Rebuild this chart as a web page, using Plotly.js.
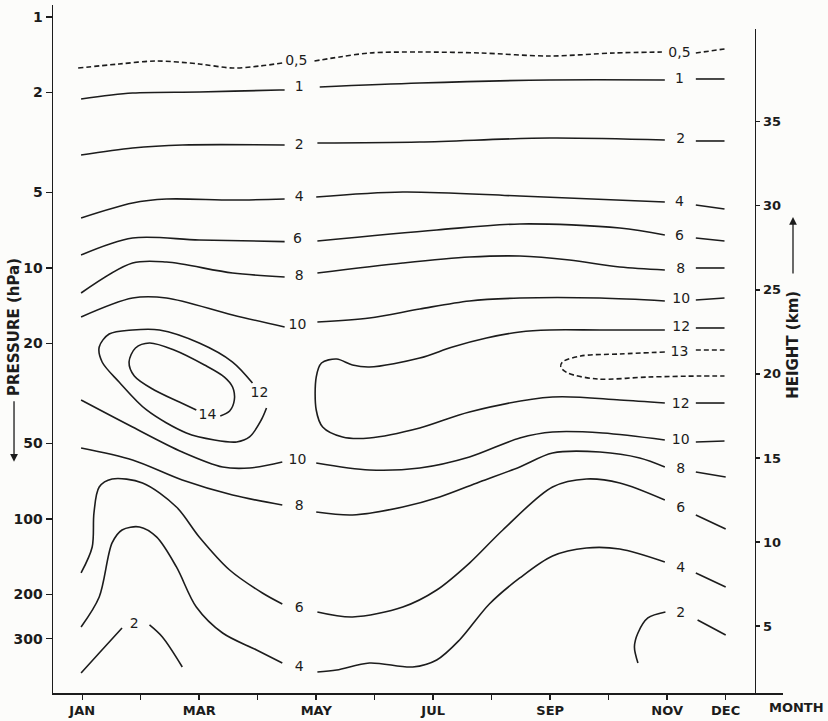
<!DOCTYPE html>
<html>
<head>
<meta charset="utf-8">
<script src="https://cdn.plot.ly/plotly-3.0.1.min.js"></script>
<style>html,body{margin:0;padding:0;background:#fcfcfa;}#chart{width:828px;height:721px;}</style>
</head>
<body>
<div id="chart"></div>
<script>
// ---- axis ticks ----
const MONTH_TICKS = [1,2,3,4,5,6,7,8,9,10,11,12];
const MONTH_LABELS = ['JAN','','MAR','','MAY','','JUL','','SEP','','NOV','DEC'];
const P_TICKS = [1,2,5,10,20,50,100,200,300,500];
const H_TICKS = [5,10,15,20,25,30,35];

// ---- contour segments: month (x) and pressure hPa (y) ----
const lv05_m = [[0.93,1.63,2.27,3.00,3.57,4.03,4.42],[4.97,5.40,5.91,6.77,7.79,8.99,10.10,10.91],[11.49,11.98]];
const lv05_p = [[1.597,1.539,1.497,1.539,1.597,1.568,1.525],[1.497,1.443,1.391,1.379,1.391,1.430,1.391,1.379],[1.391,1.341]];

const lv1_m = [[0.98,1.86,3.00,4.37,4.46],[5.06,6.77,8.99,10.96],[11.49,11.98]];
const lv1_p = [[2.122,2.008,1.99,1.954,1.954],[1.900,1.832,1.782,1.782],[1.766,1.766]];

const lv2_m = [[0.98,1.86,2.71,4.46],[5.02,6.77,8.99,10.96],[11.49,11.98],
               [0.98,1.29,1.68],[2.15,2.37,2.71],[10.97,10.67,10.50,10.44,10.50],[11.52,12.0]];
const lv2_p = [[3.546,3.326,3.236,3.236],[3.177,3.148,3.034,3.090],[3.119,3.119],
               [410.7,342.0,271.8],[264.4,295.3,388.7],[234.7,248.0,284.6,323.6,374.7],[252.6,289.9]];

const lv4_m = [[0.98,1.86,2.44,3.57,4.46],[5.00,6.48,8.48,10.96],[11.49,11.98],
               [0.98,1.29,1.51,1.68,1.98,2.27,2.61,2.95,3.40,3.98,4.42],
               [5.02,5.35,5.91,6.65,7.06,7.45,7.96,8.48,9.04,9.62,10.19,10.96],[11.49,12.0]];
const lv4_p = [[6.320,5.508,5.311,5.360,5.311],[5.214,4.981,5.167,5.460],[5.610,5.820],
               [269.3,204.6,124.6,110.6,107.6,117.9,155.3,224.2,284.6,332.6,374.7],
               [407.0,399.6,374.7,388.7,364.6,303.4,218.1,171.8,140.4,130.5,131.7,148.4],[164.1,186.6]];

const lv6_m = [[0.98,1.86,3.00,4.46],[5.02,7.06,8.48,10.19,10.96],[11.49,11.98],
               [0.98,1.17,1.20,1.29,1.51,2.03,2.61,3.00,3.52,4.08,4.42],
               [5.02,5.62,6.48,7.06,7.62,8.19,9.04,9.62,10.19,10.96],[11.49,12.0]];
const lv6_p = [[8.876,7.594,7.734,7.85],[7.805,7.057,6.677,6.927,7.388],[7.594,7.805],
               [164.1,129.3,94.65,74.57,69.30,71.88,89.58,117.9,159.7,197.2,218.1],
               [234.7,245.7,224.2,191.8,149.8,110.6,74.57,69.30,71.88,84.02],[96.40,109.6]];

const lv8_m = [[0.98,1.86,2.44,3.57,4.46],[5.02,6.48,7.62,8.48,9.33,10.19,10.96],[11.49,11.98],
               [0.98,1.86,2.71,3.57,4.42],[5.00,5.62,6.48,7.11,7.79,8.48,9.04,9.85,10.53,10.96],[11.49,12.0]];
const lv8_p = [[12.58,9.553,9.465,10.47,10.86],[10.47,9.553,9.041,8.958,9.292,9.909,10.18],[10.0,10.0],
               [52.14,58.21,69.93,80.26,87.95],[93.78,96.40,89.58,81.74,71.24,62.07,54.59,54.09,57.15,62.07],[64.98,68.04]];

const lv10_m = [[0.98,1.86,2.44,3.57,4.46],[5.02,5.91,6.77,7.62,8.48,9.85,10.96],[11.49,11.98],
                [0.98,1.86,2.71,3.40,3.86,4.42],[5.00,5.91,6.77,7.62,8.48,9.04,9.90,10.96],[11.49,11.98]];
const lv10_p = [[15.67,13.17,13.17,15.39,17.18],[16.41,15.82,14.57,13.53,13.17,13.17,13.53],[13.41,13.17],
                [33.57,43.00,54.09,62.07,62.64,59.29],[59.84,63.80,62.64,56.62,47.56,45.02,45.44,48.45],[49.34,48.89]];

const lv12_m = [[10.96,9.85,8.99,8.48,7.91,7.33,6.77,5.91,5.62,5.35,5.09,5.00,5.00,5.11,5.45,5.91,6.77,7.62,9.04,10.19,10.96],
                [11.49,11.98],[11.49,11.98],
                [4.15,4.06,3.86,3.64,3.26,2.78,2.10,1.63,1.34,1.29,1.46,1.86,2.32,3.00,3.57,3.91]];
const lv12_p = [[17.66,17.66,17.66,17.99,19.01,20.64,22.84,24.80,24.35,23.05,23.90,27.19,36.79,43.00,47.13,47.56,43.40,37.47,32.66,33.57,34.51],
                [17.34,17.34],[34.51,34.51],
                [36.13,40.33,47.13,49.34,48.45,45.44,36.79,28.46,23.69,20.64,18.33,17.66,17.66,19.90,23.69,28.72]];

const lv13_m = [[10.96,10.19,9.52,9.21,9.18,9.30,9.81,10.67,11.56,11.98],[11.49,11.98]];
const lv13_p = [[21.61,22.01,22.42,23.69,24.80,26.20,27.69,27.19,26.94,26.94],[21.22,21.22]];

const lv14_m = [[3.36,3.52,3.60,3.57,3.43,3.09,2.57,2.15,1.91,1.80,1.89,2.23,2.66,2.95]];
const lv14_p = [[38.87,37.13,33.57,29.80,27.19,24.35,21.22,19.90,20.83,23.69,26.94,30.63,34.19,36.79]];

// ---- contour labels ----
const lblText = ['0,5','0,5','1','1','2','2','4','4','6','6','8','8','10','10','12','13','14','12','12','10','10','8','8','6','6','4','4','2','2'];
const lblMonth = [4.66,11.21,4.71,11.21,4.71,11.23,4.71,11.21,4.68,11.21,4.71,11.23,4.68,11.24,11.24,11.21,3.14,4.03,11.23,4.68,11.23,4.71,11.23,4.71,11.23,4.71,11.23,1.89,11.23];
const lblP = [1.511,1.404,1.918,1.782,3.236,3.090,5.214,5.508,7.734,7.524,10.86,10.18,16.87,13.41,17.34,21.81,38.52,31.48,34.83,58.21,48.45,89.58,63.22,226.3,90.41,392.3,156.8,264.4,239.0];

const INK = '#1c1c1c';
const FONT = 'DejaVu Sans, sans-serif';

const levels = [
  [lv05_m, lv05_p, 'dash'], [lv1_m, lv1_p, 'solid'], [lv2_m, lv2_p, 'solid'],
  [lv4_m, lv4_p, 'solid'], [lv6_m, lv6_p, 'solid'], [lv8_m, lv8_p, 'solid'],
  [lv10_m, lv10_p, 'solid'], [lv12_m, lv12_p, 'solid'], [lv13_m, lv13_p, 'dash'],
  [lv14_m, lv14_p, 'solid']
];

const traces = [];
levels.forEach(([ms, ps, dash]) => {
  ms.forEach((m, i) => {
    traces.push({
      x: m, y: ps[i], type: 'scatter', mode: 'lines',
      line: {color: INK, width: 1.6, shape: 'spline', smoothing: 0.9, dash: dash === 'dash' ? '5px,3px' : 'solid'},
      hoverinfo: 'skip', showlegend: false
    });
  });
});

traces.push({
  x: lblMonth, y: lblP, text: lblText, type: 'scatter', mode: 'text',
  textposition: 'middle center', cliponaxis: false,
  textfont: {family: FONT, size: 14, color: INK},
  hoverinfo: 'skip', showlegend: false
});

// height axis carrier
traces.push({x: [null], y: [null], yaxis: 'y2', type: 'scatter', mode: 'lines', hoverinfo: 'skip', showlegend: false});

const tickFont = {family: FONT, size: 13, color: INK, weight: 'bold'};
const titleFont = {family: FONT, size: 15, color: INK, weight: 'bold'};

const layout = {
  width: 828, height: 721,
  margin: {l: 53, r: 45, t: 5, b: 28, pad: 0},
  paper_bgcolor: '#fcfcfa', plot_bgcolor: 'rgba(0,0,0,0)',
  showlegend: false,
  xaxis: {
    range: [0.5, 12.98], domain: [0, 1], anchor: 'y',
    tickvals: MONTH_TICKS, ticktext: MONTH_LABELS,
    ticks: 'outside', ticklen: 5, tickwidth: 1.5, tickcolor: INK,
    showline: true, linecolor: INK, linewidth: 1.5,
    showgrid: false, zeroline: false, tickfont: tickFont
  },
  yaxis: {
    type: 'log', range: [2.6933, -0.0478], domain: [0, 1], anchor: 'x',
    tickvals: P_TICKS, ticktext: P_TICKS.map(String),
    ticks: 'outside', ticklen: 6, tickwidth: 1.5, tickcolor: INK,
    showline: true, linecolor: INK, linewidth: 1.5,
    showgrid: false, zeroline: false, tickfont: {family: FONT, size: 14, color: INK, weight: 'bold'}
  },
  yaxis2: {
    range: [1.03, 40.5], domain: [0, 0.9651], anchor: 'free', position: 0.9616, side: 'right',
    tickvals: H_TICKS, ticks: 'outside', ticklen: 4, tickwidth: 1.5, tickcolor: INK,
    showline: true, linecolor: INK, linewidth: 1.5,
    showgrid: false, zeroline: false, tickfont: tickFont
  },
  annotations: [
    {xref: 'paper', yref: 'paper', x: -0.0534, y: 0.532, xanchor: 'center', yanchor: 'middle',
     text: 'PRESSURE (hPa)', textangle: -90, showarrow: false, font: titleFont},
    {xref: 'paper', yref: 'paper', x: -0.0534, y: 0.336, text: '', showarrow: true, ax: 0, ay: -62,
     arrowhead: 2, arrowsize: 1.2, arrowwidth: 1.3, arrowcolor: INK},
    {xref: 'paper', yref: 'paper', x: 1.0137, y: 0.506, xanchor: 'center', yanchor: 'middle',
     text: 'HEIGHT (km)', textangle: -90, showarrow: false, font: titleFont},
    {xref: 'paper', yref: 'paper', x: 1.0137, y: 0.692, text: '', showarrow: true, ax: 0, ay: 58,
     arrowhead: 2, arrowsize: 1.2, arrowwidth: 1.3, arrowcolor: INK},
    {xref: 'paper', yref: 'paper', x: 1.018, y: -0.0218, xanchor: 'center', yanchor: 'middle',
     text: 'MONTH', showarrow: false, font: {family: FONT, size: 13, color: INK, weight: 'bold'}}
  ]
};

Plotly.newPlot('chart', traces, layout, {staticPlot: true});
</script>
</body>
</html>
